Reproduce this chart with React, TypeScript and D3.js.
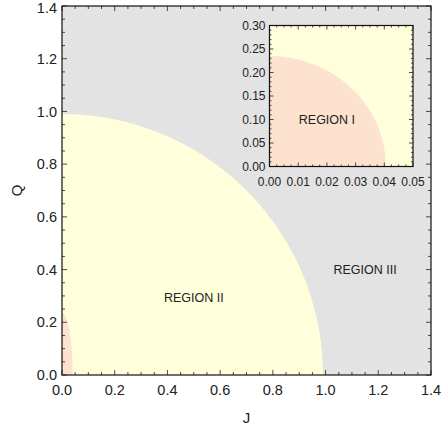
import React from "react";
import * as d3 from "d3";

// ---- data ----
const mainXTicks = [0, 0.2, 0.4, 0.6, 0.8, 1.0, 1.2, 1.4];
const mainYTicks = [0, 0.2, 0.4, 0.6, 0.8, 1.0, 1.2, 1.4];
const insetXTicks = [0, 0.01, 0.02, 0.03, 0.04, 0.05];
const insetYTicks = [0, 0.05, 0.1, 0.15, 0.2, 0.25, 0.3];
// region boundaries (quarter ellipses): [J radius, Q radius]
const region2Radii = [0.99, 0.99];
const region1Radii = [0.0405, 0.235];
const regionLabels = ["REGION I", "REGION II", "REGION III"];
const regionLabelPos = [
  [0.02, 0.1],
  [0.5, 0.295],
  [1.15, 0.4],
];

const W = 441, H = 429;
const M = { left: 62, right: 431, top: 6, bottom: 375 };
const I = { left: 269.5, right: 413, top: 25.5, bottom: 166.5 };

const GRAY = "#e3e3e3";
const YELLOW = "#ffffdb";
const PINK = "#fde2cf";
const FONT = "Liberation Sans, Arial, sans-serif";

function ellipsePath(x: d3.ScaleLinear<number, number>, y: d3.ScaleLinear<number, number>, rx: number, ry: number) {
  const pts: [number, number][] = [[0, 0]];
  const n = 120;
  for (let i = 0; i <= n; i++) {
    const t = (Math.PI / 2) * (i / n);
    pts.push([rx * Math.cos(t), ry * Math.sin(t)]);
  }
  const line = d3.line<[number, number]>().x((d) => x(d[0])).y((d) => y(d[1]));
  return line(pts) + "Z";
}

function Frame({ x, y, xMajor, yMajor, xMinorStep, yMinorStep, majorLen, minorLen, fmtX, fmtY, fontSize, labelOffX, labelOffY, minLabelY }: any) {
  const [x0, x1] = x.domain();
  const [y0, y1] = y.domain();
  const xr = x.range();
  const yr = y.range();
  const xMinor = d3.range(Math.round((x1 - x0) / xMinorStep) + 1).map((i) => x0 + i * xMinorStep);
  const yMinor = d3.range(Math.round((y1 - y0) / yMinorStep) + 1).map((i) => y0 + i * yMinorStep);
  const isMajor = (v: number, arr: number[]) => arr.some((a) => Math.abs(a - v) < 1e-9);
  const els: any[] = [];
  xMinor.forEach((v, i) => {
    const L = isMajor(v, xMajor) ? majorLen : minorLen;
    const px = x(v);
    els.push(<line key={"xb" + i} x1={px} x2={px} y1={yr[0]} y2={yr[0] - L} stroke="#222" strokeWidth={0.8} />);
    els.push(<line key={"xt" + i} x1={px} x2={px} y1={yr[1]} y2={yr[1] + L} stroke="#222" strokeWidth={0.8} />);
  });
  yMinor.forEach((v, i) => {
    const L = isMajor(v, yMajor) ? majorLen : minorLen;
    const py = y(v);
    els.push(<line key={"yl" + i} x1={xr[0]} x2={xr[0] + L} y1={py} y2={py} stroke="#222" strokeWidth={0.8} />);
    els.push(<line key={"yr" + i} x1={xr[1]} x2={xr[1] - L} y1={py} y2={py} stroke="#222" strokeWidth={0.8} />);
  });
  return (
    <g>
      {els}
      <rect x={xr[0]} y={yr[1]} width={xr[1] - xr[0]} height={yr[0] - yr[1]} fill="none" stroke="#111" strokeWidth={1.2} />
      {xMajor.map((v: number) => (
        <text key={"xl" + v} x={x(v)} y={yr[0] + labelOffX} textAnchor="middle" fontSize={fontSize} fontFamily={FONT} fill="#222">
          {fmtX(v)}
        </text>
      ))}
      {yMajor.map((v: number) => (
        <text key={"ylab" + v} x={xr[0] - labelOffY} y={Math.max(y(v), minLabelY || 0)} dy="0.35em" textAnchor="end" fontSize={fontSize} fontFamily={FONT} fill="#222">
          {fmtY(v)}
        </text>
      ))}
    </g>
  );
}

export default function App() {
  const x = d3.scaleLinear().domain([0, 1.4]).range([M.left, M.right]);
  const y = d3.scaleLinear().domain([0, 1.4]).range([M.bottom, M.top]);
  const ix = d3.scaleLinear().domain([0, 0.05]).range([I.left, I.right]);
  const iy = d3.scaleLinear().domain([0, 0.3]).range([I.bottom, I.top]);
  const f1 = d3.format(".1f");
  const f2 = d3.format(".2f");
  return (
    <svg width={W} height={H} style={{ position: "absolute", left: 0, top: 0, background: "#fff" }}>
      <rect x={M.left} y={M.top} width={M.right - M.left} height={M.bottom - M.top} fill={GRAY} />
      <path d={ellipsePath(x, y, region2Radii[0], region2Radii[1])} fill={YELLOW} />
      <path d={ellipsePath(x, y, region1Radii[0], region1Radii[1])} fill={PINK} />
      <text x={x(regionLabelPos[1][0])} y={y(regionLabelPos[1][1])} dy="0.35em" textAnchor="middle" fontSize={12.5} fontFamily={FONT} fill="#222">
        {regionLabels[1]}
      </text>
      <text x={x(regionLabelPos[2][0])} y={y(regionLabelPos[2][1])} dy="0.35em" textAnchor="middle" fontSize={12.5} fontFamily={FONT} fill="#222">
        {regionLabels[2]}
      </text>
      <Frame x={x} y={y} xMajor={mainXTicks} yMajor={mainYTicks} xMinorStep={0.05} yMinorStep={0.05} majorLen={5} minorLen={3}
        fmtX={f1} fmtY={f1} fontSize={14.5} labelOffX={20} labelOffY={5} minLabelY={7.5} />
      <text x={(M.left + M.right) / 2} y={423} textAnchor="middle" fontSize={15} fontFamily={FONT} fill="#222">J</text>
      <text transform={`translate(17,${(M.top + M.bottom) / 2}) rotate(-90)`} textAnchor="middle" dy="0.35em" fontSize={15} fontFamily={FONT} fill="#222">Q</text>

      {/* inset */}
      <rect x={I.left} y={I.top} width={I.right - I.left} height={I.bottom - I.top} fill={YELLOW} />
      <path d={ellipsePath(ix, iy, region1Radii[0], region1Radii[1])} fill={PINK} />
      <text x={ix(regionLabelPos[0][0])} y={iy(regionLabelPos[0][1])} dy="0.35em" textAnchor="middle" fontSize={12.5} fontFamily={FONT} fill="#222">
        {regionLabels[0]}
      </text>
      <Frame x={ix} y={iy} xMajor={insetXTicks} yMajor={insetYTicks} xMinorStep={0.0025} yMinorStep={0.01} majorLen={4} minorLen={2}
        fmtX={f2} fmtY={f2} fontSize={12} labelOffX={19} labelOffY={4} />
    </svg>
  );
}
